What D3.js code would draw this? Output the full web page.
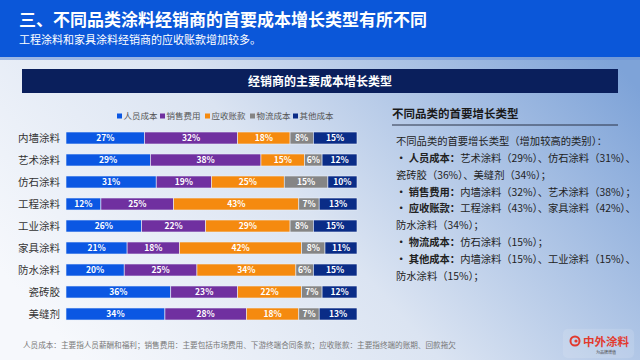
<!DOCTYPE html>
<html><head><meta charset="utf-8">
<script src="https://cdn.jsdelivr.net/npm/d3@7/dist/d3.min.js"></script>
<style>
html,body{margin:0;padding:0;width:640px;height:360px;overflow:hidden;}
svg{display:block;font-family:"Noto Sans CJK SC","Noto Sans",sans-serif;}
</style></head>
<body><svg id="c" width="640" height="360"></svg>
<script>
const categories = ["内墙涂料","艺术涂料","仿石涂料","工程涂料","工业涂料","家具涂料","防水涂料","瓷砖胶","美缝剂"];
const seriesNames = ["人员成本","销售费用","应收账款","物流成本","其他成本"];
const personnel = [27,29,31,12,26,21,20,36,34];
const sales     = [32,38,19,25,22,18,25,23,28];
const receivable= [18,15,25,43,29,42,34,22,18];
const logistics = [8,6,15,7,8,8,6,7,7];
const other     = [15,12,10,13,15,11,15,12,13];
const seriesValues = [personnel, sales, receivable, logistics, other];
const colors = ["#0b57e3","#7030a0","#f58a0f","#858585","#0a2c87"];

const title = "三、不同品类涂料经销商的首要成本增长类型有所不同";
const subtitle = "工程涂料和家具涂料经销商的应收账款增加较多。";
const panelTitle = "经销商的主要成本增长类型";
const sideTitle = "不同品类的首要增长类型";
const sideLines = [
  [{t:"不同品类的首要增长类型（增加较高的类别）：",b:false}],
  [{t:"• 人员成本：",b:true},{t:"艺术涂料（29%）、仿石涂料（31%）、",b:false}],
  [{t:"瓷砖胶（36%）、美缝剂（34%）；",b:false}],
  [{t:"• 销售费用：",b:true},{t:"内墙涂料（32%）、艺术涂料（38%）；",b:false}],
  [{t:"• 应收账款：",b:true},{t:"工程涂料（43%）、家具涂料（42%）、",b:false}],
  [{t:"防水涂料（34%）；",b:false}],
  [{t:"• 物流成本：",b:true},{t:"仿石涂料（15%）；",b:false}],
  [{t:"• 其他成本：",b:true},{t:"内墙涂料（15%）、工业涂料（15%）、",b:false}],
  [{t:"防水涂料（15%）；",b:false}]
];
const footnote = "人员成本：主要指人员薪酬和福利；销售费用：主要包括市场费用、下游终端合同条款；应收账款：主要指终端的账期、回款拖欠";

const svg = d3.select("#c");
const defs = svg.append("defs");
const bg = defs.append("linearGradient").attr("id","bg").attr("x1","0").attr("y1","0.75").attr("x2","1").attr("y2","0.25");
bg.append("stop").attr("offset","0").attr("stop-color","#f6f8fc");
bg.append("stop").attr("offset","0.45").attr("stop-color","#dbe4f2");
bg.append("stop").attr("offset","0.75").attr("stop-color","#a9c1e4");
bg.append("stop").attr("offset","1").attr("stop-color","#7ea3d8");
svg.append("rect").attr("width",640).attr("height",360).attr("fill","url(#bg)");

// header
svg.append("rect").attr("x",0).attr("y",0).attr("width",640).attr("height",57).attr("fill","#0b57d9");
svg.append("rect").attr("x",0).attr("y",57).attr("width",640).attr("height",3).attr("fill","#6d94d8").attr("opacity",0.6);
svg.append("text").attr("x",19).attr("y",26).attr("fill","#fff").attr("font-size",17).attr("font-weight","bold").text(title);
svg.append("text").attr("x",19).attr("y",44).attr("fill","#fff").attr("font-size",11).text(subtitle);

// panel title bar
svg.append("rect").attr("x",22).attr("y",69).attr("width",596).attr("height",24).attr("fill","#0a1f5c");
svg.append("text").attr("x",320).attr("y",86).attr("text-anchor","middle").attr("fill","#fff").attr("font-size",12).attr("font-weight","bold").text(panelTitle);

// legend
const legX = [117,160,205,250,293];
const leg = svg.append("g");
seriesNames.forEach((n,i)=>{
  leg.append("rect").attr("x",legX[i]).attr("y",113.5).attr("width",5).attr("height",5).attr("fill",colors[i]);
  leg.append("text").attr("x",legX[i]+6.5).attr("y",119).attr("font-size",8.5).attr("fill","#555").text(n);
});

// bars
const x = d3.scaleLinear().domain([0,100]).range([66,357]);
const y = d3.scaleBand().domain(categories).range([127,325]).paddingInner(0.4545).paddingOuter(0.2273);
const stackData = categories.map((c,j)=>{
  const o = {cat:c};
  seriesNames.forEach((s,i)=>o[s]=seriesValues[i][j]);
  return o;
});
const stacked = d3.stack().keys(seriesNames)(stackData);
const gBars = svg.append("g");
stacked.forEach((layer,i)=>{
  const g = gBars.append("g");
  g.selectAll("rect").data(layer).join("rect")
    .attr("x",d=>x(d[0])).attr("y",d=>y(d.data.cat))
    .attr("width",d=>x(d[1])-x(d[0])).attr("height",y.bandwidth())
    .attr("fill",colors[i]).attr("stroke","#e8eef8").attr("stroke-width",0.6);
  g.selectAll("text").data(layer).join("text")
    .attr("x",d=>(x(d[0])+x(d[1]))/2).attr("y",d=>y(d.data.cat)+y.bandwidth()/2+3.2)
    .attr("text-anchor","middle").attr("fill","#fff").attr("font-size",8.5).attr("font-weight","bold")
    .text(d=>(d[1]-d[0])+"%");
});
// category labels
svg.append("g").selectAll("text").data(categories).join("text")
  .attr("x",60).attr("y",d=>y(d)+y.bandwidth()/2+4)
  .attr("text-anchor","end").attr("font-size",10.5).attr("fill","#333").text(d=>d);

// side panel
svg.append("text").attr("x",392).attr("y",118).attr("font-size",11.5).attr("font-weight","bold").attr("fill","#1a1a1a").text(sideTitle);
svg.append("line").attr("x1",392).attr("x2",618).attr("y1",125).attr("y2",125).attr("stroke","#2a3346").attr("stroke-width",1);
const lineY = [145,162,179,196,212,229,246,263,280];
sideLines.forEach((parts,i)=>{
  const t = svg.append("text").attr("x",396).attr("y",lineY[i]).attr("font-size",10.3).attr("fill","#222");
  parts.forEach(p=>t.append("tspan").attr("font-weight",p.b?"bold":"normal").text(p.t));
});

// footnote
svg.append("text").attr("x",23).attr("y",348).attr("font-size",7.6).attr("fill","#777").text(footnote);

// logo
const lg = svg.append("g");
lg.append("rect").attr("x",563).attr("y",329).attr("width",71).attr("height",29).attr("rx",5).attr("fill","#ffffff").attr("opacity",0.12).attr("stroke","#ffffff").attr("stroke-opacity",0.3);
lg.append("circle").attr("cx",575).attr("cy",341).attr("r",4.5).attr("fill","none").attr("stroke","#e23a2e").attr("stroke-width",2);
lg.append("circle").attr("cx",576).attr("cy",341).attr("r",1.6).attr("fill","#e23a2e");
lg.append("text").attr("x",583).attr("y",346).attr("font-size",11.5).attr("font-weight","bold").attr("fill","#e23a2e").text("中外涂料");
lg.append("text").attr("x",606).attr("y",354).attr("text-anchor","middle").attr("font-size",4).attr("fill","#444").text("为品牌增值");
</script></body></html>
